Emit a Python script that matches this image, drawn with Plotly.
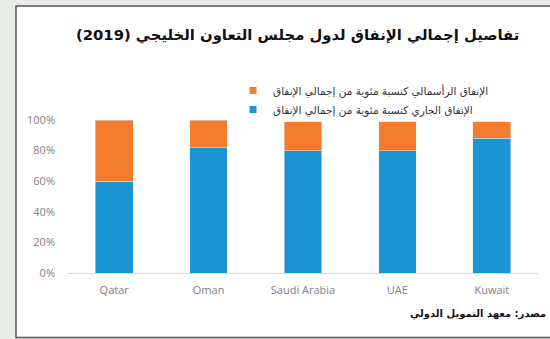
import plotly.graph_objects as go

countries = ["Qatar", "Oman", "Saudi Arabia", "UAE", "Kuwait"]
current_share = [60, 82, 80, 80, 88]
capital_share = [40, 18, 19, 19, 11]
ytick_vals = [0, 20, 40, 60, 80, 100]
ytick_text = ["0%", "20%", "40%", "60%", "80%", "100%"]

title_text = "تفاصيل إجمالي الإنفاق لدول مجلس التعاون الخليجي (2019)"
legend_capital = "الإنفاق الرأسمالي كنسبة مئوية من إجمالي الإنفاق"
legend_current = "الإنفاق الجاري كنسبة مئوية من إجمالي الإنفاق"
source_text = "مصدر: معهد التمويل الدولي"

BLUE = "#1b95d2"
ORANGE = "#f27b2e"

W, H = 550, 339
L, R, T, B = 67, 11, 120, 66
pw, ph = W - L - R, H - T - B

def px(x):
    return (x - L) / pw

def py(y):
    return (H - B - y) / ph

fig = go.Figure()
fig.add_trace(go.Bar(x=countries, y=current_share, marker_color=BLUE,
                     showlegend=False, width=0.4))
fig.add_trace(go.Bar(x=countries, y=capital_share, marker_color=ORANGE,
                     showlegend=False, width=0.4))
# legend entries with small square markers
fig.add_trace(go.Scatter(x=[None], y=[None], mode="markers", name=legend_capital,
                         marker=dict(symbol="square", size=7, color=ORANGE)))
fig.add_trace(go.Scatter(x=[None], y=[None], mode="markers", name=legend_current,
                         marker=dict(symbol="square", size=7, color=BLUE)))

fig.update_layout(
    width=W, height=H,
    margin=dict(l=L, r=R, t=T, b=B),
    barmode="stack",
    paper_bgcolor="#e8ebe7",
    plot_bgcolor="white",
    font=dict(family="Open Sans, DejaVu Sans", color="#808080", size=11),
    legend=dict(x=px(233), y=py(76), xanchor="left", yanchor="top",
                traceorder="normal", bgcolor="rgba(0,0,0,0)",
                font=dict(family="DejaVu Sans", size=10.5, color="#333333"),
                itemwidth=30, tracegroupgap=0),
    xaxis=dict(showgrid=False, showline=True, linecolor="#d9d9d9", linewidth=1,
               ticks="", ticklabelstandoff=7, range=[-0.5, 4.5],
               tickfont=dict(size=11, color="#808080")),
    yaxis=dict(range=[0, 100], tickvals=ytick_vals, ticktext=ytick_text,
               showgrid=False, zeroline=False, ticks="", ticklabelstandoff=11,
               tickfont=dict(size=11, color="#808080")),
    shapes=[dict(type="rect", xref="paper", yref="paper", layer="below",
                 x0=px(16), x1=px(556), y0=py(337.5), y1=py(6),
                 fillcolor="white", line=dict(color="#555555", width=1.5))],
    annotations=[
        dict(text="<b>" + title_text + "</b>", xref="paper", yref="paper",
             x=px(297), y=py(35), showarrow=False, xanchor="center", yanchor="middle",
             font=dict(family="DejaVu Sans", size=14.8, color="#111111")),
        dict(text="<b>" + source_text + "</b>", xref="paper", yref="paper",
             x=px(548), y=py(314), showarrow=False, xanchor="right", yanchor="middle",
             font=dict(family="DejaVu Sans", size=10, color="#111111")),
    ],
)

fig.write_html("out.html")
